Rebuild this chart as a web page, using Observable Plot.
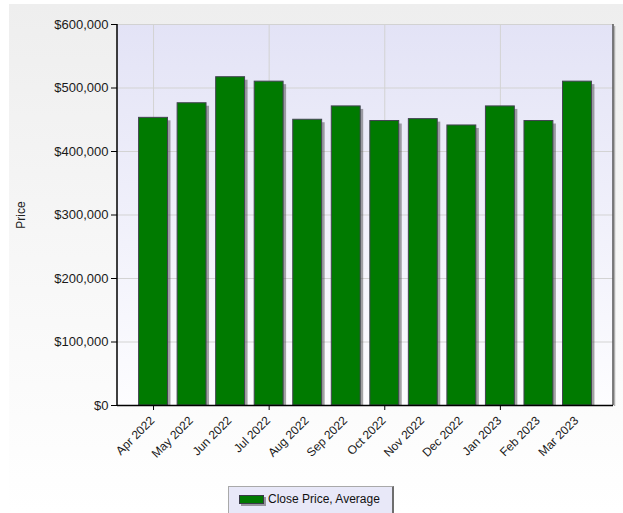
<!DOCTYPE html>
<html>
<head>
<meta charset="utf-8">
<script src="https://cdn.jsdelivr.net/npm/d3@7"></script>
<script src="https://cdn.jsdelivr.net/npm/@observablehq/plot@0.6"></script>
<style>
  html, body { margin: 0; padding: 0; background: #fff; }
  #wrap { position: relative; width: 623px; height: 513px; overflow: hidden; background: #fff;
          font-family: "Liberation Sans", Arial, sans-serif; }
  #panel { position: absolute; left: 9px; top: 4px; width: 614px; height: 509px;
           background: linear-gradient(to bottom, #eeeeee 0%, #f7f7f7 50%, #ffffff 100%); }
  #chart { position: absolute; left: 0; top: 0; }
  #legend { position: absolute; left: 228px; top: 486px; width: 166px; height: 34px;
            box-sizing: border-box; background: #e8e8f8;
            border: 1px solid #a9a9a9; border-right: 2px solid #6e6e6e;
            font-size: 12px; color: #111; }
  #legend .sw { position: absolute; left: 10px; top: 8px; width: 25px; height: 9px;
                background: #007a00; border: 1px solid #3a3a48; box-shadow: 2px 2px 0 rgba(80,80,80,0.55); box-sizing: border-box; }
  #legend .lbl { position: absolute; left: 39px; top: 5px; white-space: nowrap; }
</style>
</head>
<body>
<div id="wrap">
  <div id="panel"></div>
  <div id="chart"></div>
  <div id="legend"><span class="sw"></span><span class="lbl"></span></div>
</div>
<script>
// Monthly average close price
const months = ["Apr 2022", "May 2022", "Jun 2022", "Jul 2022", "Aug 2022", "Sep 2022",
                "Oct 2022", "Nov 2022", "Dec 2022", "Jan 2023", "Feb 2023", "Mar 2023"];
const avgPrice = [453000, 476000, 517000, 510000, 450000, 471000,
                  448000, 451000, 441000, 471000, 448000, 510000];
const yTicks = [0, 100000, 200000, 300000, 400000, 500000, 600000];
const quarterTicks = ["Apr 2022", "Jul 2022", "Oct 2022", "Jan 2023"];
const seriesName = "Close Price, Average";
const yLabel = "Price";

const rows = months.map((m, i) => ({month: m, price: avgPrice[i]}));

// Lavender gradient behind the plotting area
function plotBackground(index, scales, values, dims) {
  const g = d3.create("svg:g");
  const grad = g.append("defs").append("linearGradient")
    .attr("id", "plot-bg").attr("x1", 0).attr("y1", 0).attr("x2", 0).attr("y2", 1);
  grad.append("stop").attr("offset", "0%").attr("stop-color", "#e3e3f6");
  grad.append("stop").attr("offset", "100%").attr("stop-color", "#fdfdff");
  g.append("rect")
    .attr("x", dims.marginLeft).attr("y", dims.marginTop)
    .attr("width", dims.width - dims.marginLeft - dims.marginRight)
    .attr("height", dims.height - dims.marginTop - dims.marginBottom)
    .attr("fill", "url(#plot-bg)");
  return g.node();
}

// Border of the plotting area: light top, shaded right edge, black left axis line
function plotBorder(index, scales, values, dims) {
  const g = d3.create("svg:g");
  const x0 = dims.marginLeft, x1 = dims.width - dims.marginRight;
  const y0 = dims.marginTop, y1 = dims.height - dims.marginBottom;
  g.append("line").attr("x1", x0).attr("x2", x1).attr("y1", y0 + 0.5).attr("y2", y0 + 0.5)
    .attr("stroke", "#d2d2d2");
  g.append("line").attr("x1", x1 + 1.5).attr("x2", x1 + 1.5).attr("y1", y0 + 2).attr("y2", y1 + 1)
    .attr("stroke", "#b0b0b0").attr("stroke-width", 1.5);
  g.append("line").attr("x1", x1).attr("x2", x1).attr("y1", y0).attr("y2", y1)
    .attr("stroke", "#555").attr("stroke-width", 1.5);
  g.append("line").attr("x1", x0).attr("x2", x0).attr("y1", y0).attr("y2", y1 + 1)
    .attr("stroke", "#000").attr("stroke-width", 1.5);
  return g.node();
}

const chart = Plot.plot({
  width: 623,
  height: 480,
  marginTop: 24,
  marginLeft: 117,
  marginRight: 10,
  marginBottom: 75,
  style: {background: "transparent", fontFamily: "'Liberation Sans', Arial, sans-serif", fontSize: "12px", overflow: "visible"},
  x: {domain: months, paddingInner: 0.25, paddingOuter: 0.56, round: false, label: null},
  y: {domain: [0, 600000], label: null},
  marks: [
    plotBackground,
    Plot.gridY(yTicks, {stroke: "#d3d3d3", strokeOpacity: 1}),
    Plot.gridX(quarterTicks, {stroke: "#d3d3d3", strokeOpacity: 1}),
    // drop shadow
    Plot.barY(rows, {x: "month", y: "price", fill: "#4a4a4a", fillOpacity: 0.5, dx: 3, insetTop: 3}),
    Plot.barY(rows, {x: "month", y: "price", fill: "#007a00", stroke: "#434352", strokeWidth: 1}),
    plotBorder,
    Plot.ruleY([0], {stroke: "#000", strokeWidth: 1.5}),
    Plot.axisY(yTicks, {tickFormat: d => "$" + d3.format(",")(d), tickSize: 6, tickPadding: 3,
                        fontSize: 13, stroke: "#000", fill: "#1a1a1a", label: null}),
    Plot.axisX({tickSize: 0, tickRotate: -45, tickPadding: 13, dx: -1, fill: "#1a1a1a", label: null}),
    Plot.axisX(quarterTicks, {tickSize: 5, tickFormat: () => "", stroke: "#000", label: null}),
    Plot.text([yLabel], {text: d => d, frameAnchor: "left", textAnchor: "middle", rotate: -90, dx: -96, fontSize: 12, fill: "#222"})
  ]
});
document.getElementById("chart").appendChild(chart);
document.querySelector("#legend .lbl").textContent = seriesName;
</script>
</body>
</html>
